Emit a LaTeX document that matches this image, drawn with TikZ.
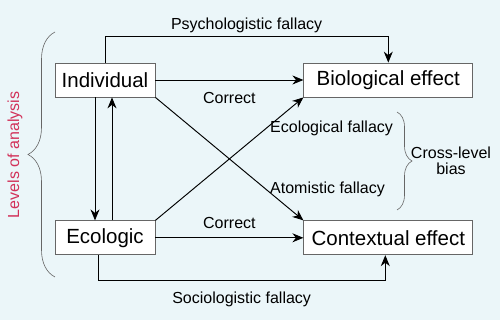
\documentclass[tikz,border=0pt]{standalone}
\usepackage{fontspec}
\setmainfont{Liberation Sans}
\usepackage{xcolor}
\usetikzlibrary{arrows.meta, positioning, decorations.pathreplacing}

\definecolor{bgblue}{HTML}{EBF6F9}
\definecolor{boxgray}{HTML}{666666}
\definecolor{levelred}{HTML}{D2325A}

\begin{document}
\begin{tikzpicture}[
  x=1pt, y=1pt,
  node distance=123pt and 148pt,
  every node/.style={font=\fontsize{16}{16.5}\selectfont, align=center},
  effectbox/.style={draw=boxgray, fill=white, line width=0.8pt, minimum height=34pt,
    inner sep=2pt, font=\fontsize{20.5}{22}\selectfont},
  bracket/.style={-, draw=boxgray, line width=0.6pt, decorate, decoration={brace, amplitude=#1}},
  ->, >={Stealth[length=11pt, width=9pt]}, line width=0.95pt
]
\fill[bgblue] (0,0) rectangle (500,320);
\useasboundingbox (0,0) rectangle (500,320);

% Boxes
\node[effectbox, minimum width=100pt] (individual) at (105,240) {Individual};
\node[effectbox, minimum width=169pt] (biological) [right=of individual] {Biological effect};
\node[effectbox, minimum width=100pt] (ecologic) [below=of individual] {Ecologic};
\node[effectbox, minimum width=169pt] (contextual) [right=of ecologic] {Contextual effect};

% Same level
\draw (individual) -- (biological) node[midway, below=9pt] (correctind) {Correct};
\draw (ecologic) -- (contextual) node[midway, above=5pt] (correcteco) {Correct};

% Between levels
\draw ([xshift=-10pt]individual.south) -- ([xshift=-10pt]ecologic.north);
\draw ([xshift=7pt]ecologic.north) -- ([xshift=7pt]individual.south);

% Cross-level
\draw (ecologic.north east) -- (biological.south west)
  node[pos=0.75, right] (ecofallacy) {Ecological fallacy};
\draw (individual.south east) -- (contextual.north west)
  node[pos=0.75, right] (atomfallacy) {Atomistic fallacy};

% Outer loops
\draw (individual.north) |- ([yshift=26pt]biological.north)
  node[pos=0.75, above] (psycho) {Psychologistic fallacy} -- (biological.north);
\draw ([xshift=-7pt]ecologic.south) |- ([xshift=-3pt, yshift=-25pt]contextual.south)
  node[pos=0.75, below=8pt] (socio) {Sociologistic fallacy} -- ([xshift=-3pt]contextual.south);

% Braces
\draw[bracket=27pt] (55,43) -- (55,288);
\node (levels) [rotate=90, text=levelred] at (15,165) {Levels of analysis};
\draw[bracket=15pt] (397,208) -- (397,110);
\node (crossbias) at (451,159) {Cross-level\\bias};
\end{tikzpicture}
\end{document}
